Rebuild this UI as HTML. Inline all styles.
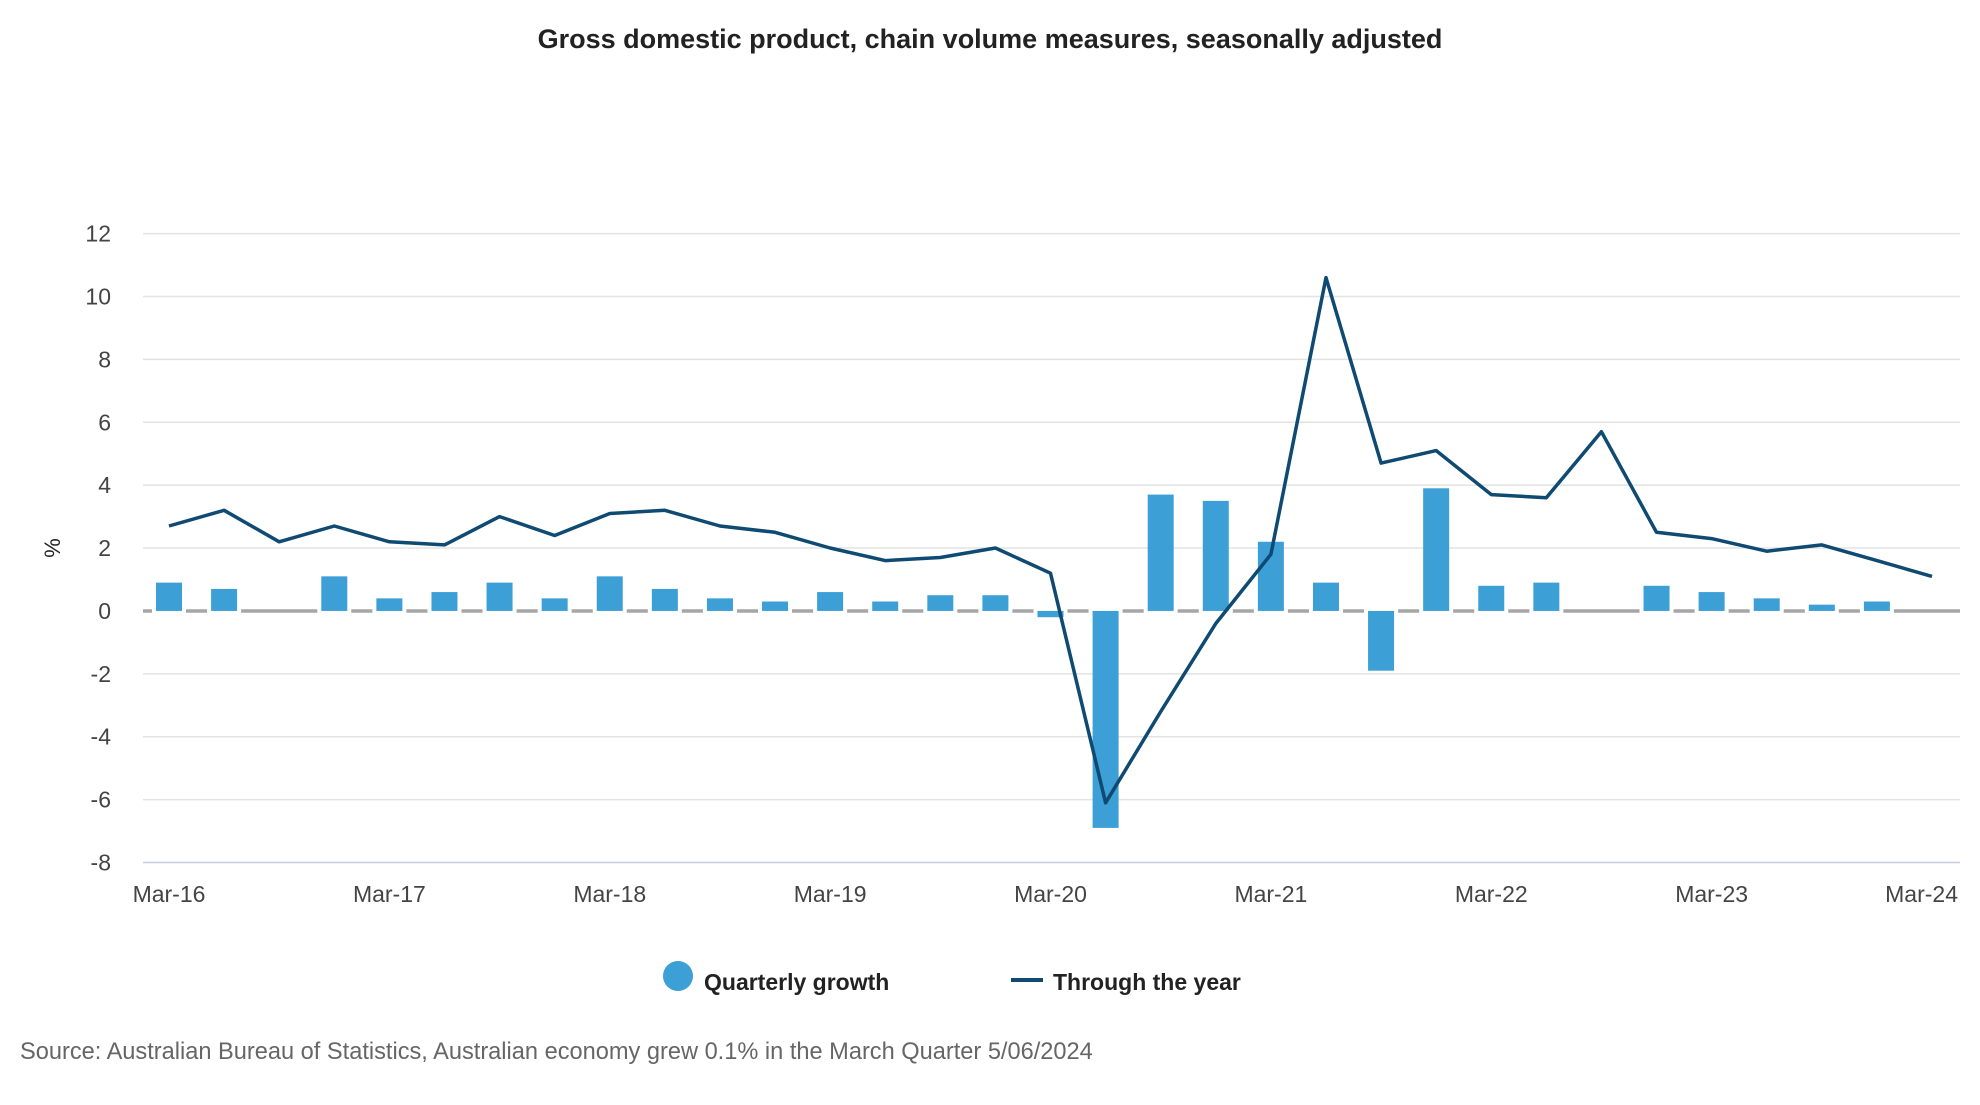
<!DOCTYPE html>
<html><head><meta charset="utf-8">
<style>
html,body{margin:0;padding:0;background:#fff;}
body{width:1980px;height:1100px;overflow:hidden;font-family:"Liberation Sans",sans-serif;}
svg text{font-family:"Liberation Sans",sans-serif;}
</style></head>
<body>
<svg id="chart" width="1980" height="1100" xmlns="http://www.w3.org/2000/svg">
<text x="990" y="48" text-anchor="middle" font-size="27" font-weight="bold" fill="#222">Gross domestic product, chain volume measures, seasonally adjusted</text>
<g id="grid"></g>
<g id="bars"></g>
<g id="line"></g>
<text transform="translate(60,548) rotate(-90)" text-anchor="middle" font-size="22" fill="#222">%</text>
<g>
<circle cx="678" cy="976" r="15" fill="#3c9fd6"/>
<text x="704" y="990" font-size="23" font-weight="bold" fill="#222">Quarterly growth</text>
<line x1="1011" y1="980" x2="1043" y2="980" stroke="#0f4a73" stroke-width="4"/>
<text x="1053" y="990" font-size="23" font-weight="bold" fill="#222">Through the year</text>
</g>
<text x="20" y="1059" font-size="23.6" fill="#666">Source: Australian Bureau of Statistics, Australian economy grew 0.1% in the March Quarter 5/06/2024</text>
</svg>
<script>
const quarters = ["Mar-16","Jun-16","Sep-16","Dec-16","Mar-17","Jun-17","Sep-17","Dec-17","Mar-18","Jun-18","Sep-18","Dec-18","Mar-19","Jun-19","Sep-19","Dec-19","Mar-20","Jun-20","Sep-20","Dec-20","Mar-21","Jun-21","Sep-21","Dec-21","Mar-22","Jun-22","Sep-22","Dec-22","Mar-23","Jun-23","Sep-23","Dec-23","Mar-24"];
const quarterlyGrowth = [0.9,0.7,0,1.1,0.4,0.6,0.9,0.4,1.1,0.7,0.4,0.3,0.6,0.3,0.5,0.5,-0.2,-6.9,3.7,3.5,2.2,0.9,-1.9,3.9,0.8,0.9,0,0.8,0.6,0.4,0.2,0.3,0];
const throughYear = [2.7,3.2,2.2,2.7,2.2,2.1,3.0,2.4,3.1,3.2,2.7,2.5,2.0,1.6,1.7,2.0,1.2,-6.1,-3.2,-0.4,1.8,10.6,4.7,5.1,3.7,3.6,5.7,2.5,2.3,1.9,2.1,1.6,1.1];
const yTicks = [12,10,8,6,4,2,0,-2,-4,-6,-8];
const xTickLabels = ["Mar-16","Mar-17","Mar-18","Mar-19","Mar-20","Mar-21","Mar-22","Mar-23","Mar-24"];

const NS="http://www.w3.org/2000/svg";
const X0=169, X1=1932, Y12=233.6, Ym8=862.5, GL=143, GR=1960;
function xScale(i){return X0+(X1-X0)*i/(quarters.length-1);}
function yScale(v){return Y12+(12-v)*(Ym8-Y12)/20;}
function mk(tag,attrs,parent){const e=document.createElementNS(NS,tag);for(const k in attrs)e.setAttribute(k,attrs[k]);parent.appendChild(e);return e;}

const grid=document.getElementById('grid');
yTicks.forEach(t=>{
  const y=yScale(t);
  if(t!==0){const l=mk('line',{x1:GL,x2:GR,y1:y,y2:y,stroke:t===-8?'#c8cbe0':'#e3e3e3','stroke-width':1.5},grid);
  
  }
  const tx=mk('text',{x:111,y:y+8,'text-anchor':'end','font-size':23,fill:'#444'},grid);
  tx.textContent=t;
  
  
});
xTickLabels.forEach((lab,k)=>{
  const i=quarters.indexOf(lab);
  let anchor='middle', x=xScale(i);
  if(k===xTickLabels.length-1){anchor='end';x=1958;}
  const tx=mk('text',{x:x,y:902,'text-anchor':anchor,'font-size':23,fill:'#444'},grid);
  tx.textContent=lab;
  
  
});

const bars=document.getElementById('bars');
const y0=yScale(0), bw=26;
const zl=mk('line',{x1:GL,x2:GR,y1:y0,y2:y0,stroke:'#a6a6a6','stroke-width':3.5},bars);


quarterlyGrowth.forEach((v,i)=>{
  if(v===0)return;
  const x=xScale(i);
  mk('rect',{x:x-bw/2-4,y:y0-3,width:bw+8,height:6,fill:'#fff'},bars);
  const top=Math.min(yScale(v),y0), h=Math.abs(yScale(v)-y0);
  const r=mk('rect',{x:x-bw/2,y:top,width:bw,height:Math.max(h,2),fill:'#3c9fd6'},bars);
  
  
});

const lg=document.getElementById('line');
const pts=throughYear.map((v,i)=>xScale(i).toFixed(1)+','+yScale(v).toFixed(1)).join(' ');
const pl=mk('polyline',{points:pts,fill:'none',stroke:'#0f4a73','stroke-width':3.5,'stroke-linejoin':'round'},lg);


</script>
</body></html>
